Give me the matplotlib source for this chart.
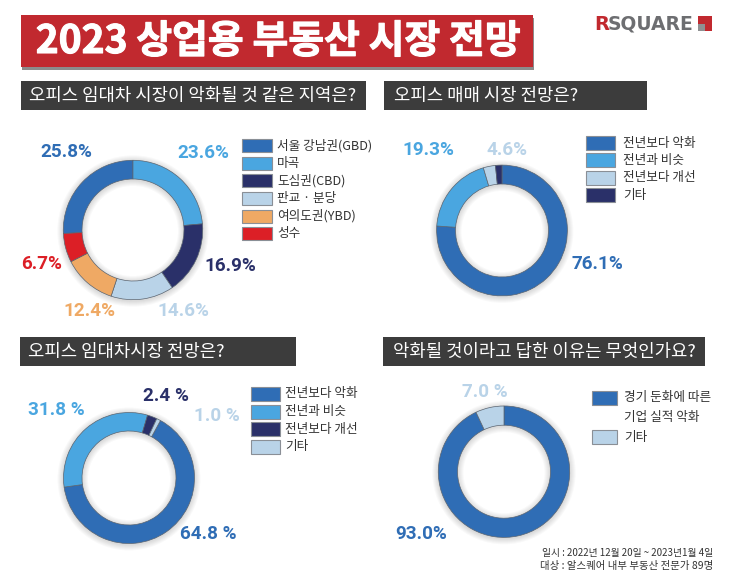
import matplotlib
matplotlib.use('Agg')
import matplotlib.pyplot as plt
import matplotlib.patheffects as pe
from matplotlib.patches import Rectangle, Wedge

W, H = 730, 586
plt.rcParams['font.family'] = ['Noto Sans CJK KR', 'DejaVu Sans']

BLUE = '#2f6db5'
SKY = '#4aa6e0'
NAVY = '#2a3069'
PALE = '#b9d3e8'
ORANGE = '#efa964'
RED = '#dc1f26'

title = '2023 상업용 부동산 시장 전망'
headers = ['오피스 임대차 시장이 악화될 것 같은 지역은?', '오피스 매매 시장 전망은?',
           '오피스 임대차시장 전망은?', '악화될 것이라고 답한 이유는 무엇인가요?']
footer = ['일시 : 2022년 12월 20일 ~ 2023년1월 4일', '대상 : 알스퀘어 내부 부동산 전문가 89명']

# 1
area_names = ['서울 강남권(GBD)', '마곡', '도심권(CBD)', '판교 · 분당', '여의도권(YBD)', '성수']
area_vals = [25.8, 23.6, 16.9, 14.6, 12.4, 6.7]
area_labels = ['25.8%', '23.6%', '16.9%', '14.6%', '12.4%', '6.7%']
area_colors = [BLUE, SKY, NAVY, PALE, ORANGE, RED]

# 2 - the 4.6% label covers both small slices
sale_names = ['전년보다 악화', '전년과 비슷', '전년보다 개선', '기타']
sale_vals = [76.1, 19.3, 3.0, 1.6]
sale_labels = ['76.1%', '19.3%', '4.6%']
sale_colors = [BLUE, SKY, PALE, NAVY]

# 3
lease_names = ['전년보다 악화', '전년과 비슷', '전년보다 개선', '기타']
lease_vals = [64.8, 31.8, 2.4, 1.0]
lease_labels = ['64.8 %', '31.8 %', '2.4 %', '1.0 %']
lease_colors = [BLUE, SKY, NAVY, PALE]

# 4
why_names = ['경기 둔화에 따른\n기업 실적 악화', '기타']
why_vals = [93.0, 7.0]
why_labels = ['93.0%', '7.0 %']
why_colors = [BLUE, PALE]

fig = plt.figure(figsize=(W / 100, H / 100), dpi=100, facecolor='white')
bg = fig.add_axes([0, 0, 1, 1])
bg.set_xlim(0, W)
bg.set_ylim(H, 0)
bg.axis('off')


def box(x0, y0, x1, y1, color, ax=bg, **kw):
    ax.add_patch(Rectangle((x0, y0), x1 - x0, y1 - y0, facecolor=color, edgecolor=kw.pop('ec', 'none'),
                           linewidth=kw.pop('lw', 0), **kw))


def donut(cx, cy, R, r, vals, colors, start):
    pad = R + 12
    ax = fig.add_axes([(cx - pad) / W, 1 - (cy + pad) / H, 2 * pad / W, 2 * pad / H])
    ax.set_xlim(-pad, pad)
    ax.set_ylim(-pad, pad)
    ax.axis('off')
    # soft shadow around the ring
    for k in range(1, 7):
        ax.add_patch(Wedge((0, -1), R + k, 0, 360, width=R - r + 2 * k, facecolor='black',
                           edgecolor='none', alpha=0.025))
    ax.pie(vals, colors=colors, radius=R, center=(0, 0), startangle=start, counterclock=False,
           frame=True, wedgeprops=dict(width=R - r, edgecolor='#5a6470', linewidth=0.5))
    ax.set_xlim(-pad, pad)
    ax.set_ylim(-pad, pad)
    ax.axis('off')


def legend(x0, x1, y0, step, h, names, colors, tx, fs=9.1):
    for i, (n, c) in enumerate(zip(names, colors)):
        y = y0 + i * step
        box(x0, y, x1, y + h, c, ec='#8a8f96', lw=0.8)
        bg.text(tx, y + h / 2, n, fontsize=fs, color='#333333', va='center', ha='left')


def pct(x, y, s, c):
    bg.text(x, y, s, fontsize=13.6, color=c, fontweight='bold', family='Roboto', ha='center', va='center')


# title
box(22, 18, 534, 70, '#8c8c8c')
box(21, 15, 533, 67, '#c1292f')
bg.text(278, 41.5, title, color='white', fontsize=28, fontweight='bold', ha='center', va='center',
        path_effects=[pe.withStroke(linewidth=0.8, foreground='white')])

# logo
bg.text(594, 24, 'R', color='#c1292f', fontsize=14, fontweight='bold', family='DejaVu Sans', va='center')
bg.text(608, 24, 'SQUARE', color='#6d6e71', fontsize=13.5, fontweight='bold', family='DejaVu Sans', va='center')
box(698, 16, 712, 31, '#c1292f')
box(698, 24, 705, 31, '#8f9092')

# section headers
for (x0, y0, x1, y1), tx, t in zip([(21, 81, 366, 110), (384, 81, 647, 110), (20, 337, 296, 366), (383, 337, 705, 366)],
                                   [29, 394, 28, 393], headers):
    box(x0, y0, x1, y1, '#3c3c3c')
    bg.text(tx, (y0 + y1) / 2, t, color='white', fontsize=12.8, va='center', ha='left')

donut(133, 230, 69.7, 51, area_vals, area_colors, 182.9)
donut(502, 230.5, 65.4, 46.5, sale_vals, sale_colors, 90)
donut(129, 478, 65.5, 47, lease_vals, lease_colors, 61.3)
donut(504, 471.7, 65.7, 46.5, why_vals, why_colors, 90)

legend(242, 272, 139, 17.67, 13, area_names, area_colors, 277)
legend(586, 615, 136, 17.4, 14, sale_names, sale_colors, 623)
legend(251, 280, 387, 17.6, 14, lease_names, lease_colors, 285)

box(592, 391, 617, 405, why_colors[0], ec='#8a8f96', lw=0.8)
bg.text(624, 398, why_names[0].split('\n')[0], fontsize=9.1, color='#333333', va='center')
bg.text(624, 417, why_names[0].split('\n')[1], fontsize=9.1, color='#333333', va='center')
box(592, 430, 617, 444, why_colors[1], ec='#8a8f96', lw=0.8)
bg.text(624, 437, why_names[1], fontsize=9.1, color='#333333', va='center')

# percent labels
for (x, y), s, c in zip([(66, 152), (203, 153), (230, 266), (183, 311), (89, 311), (42, 264)], area_labels, area_colors):
    pct(x, y, s, c)
for (x, y), s, c in zip([(597, 264), (428, 150), (507, 150)], sale_labels, sale_colors):
    pct(x, y, s, c)
for (x, y), s, c in zip([(208, 534), (56, 410), (166, 396), (217, 416)], lease_labels, lease_colors):
    pct(x, y, s, c)
for (x, y), s, c in zip([(421, 534), (485, 392)], why_labels, why_colors):
    pct(x, y, s, c)

bg.text(713, 553, footer[0], fontsize=7, color='#333333', ha='right', va='center')
bg.text(713, 566, footer[1], fontsize=7.5, color='#333333', ha='right', va='center')

fig.savefig('out.png', dpi=100)
